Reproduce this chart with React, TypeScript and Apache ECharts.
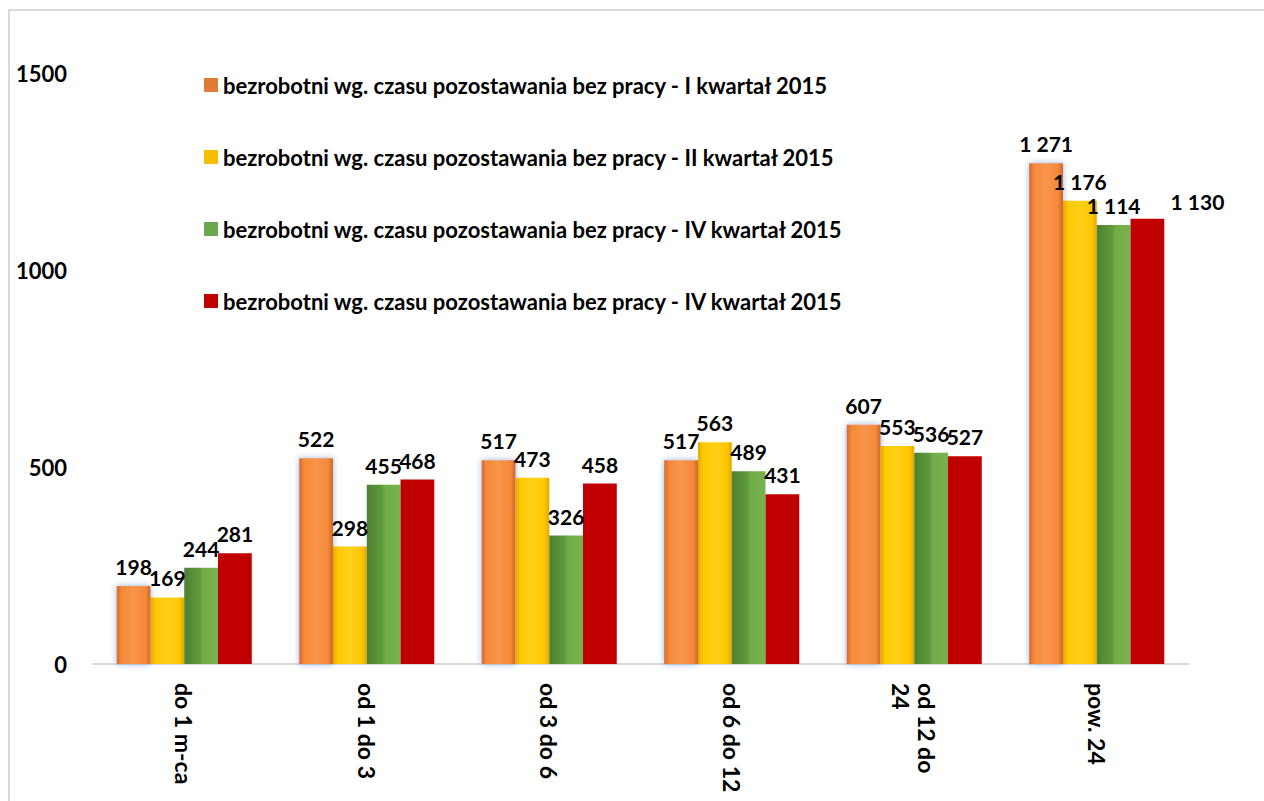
import React, { useEffect, useRef } from "react";
import * as echarts from "echarts";

const categories = ["do 1 m-ca", "od 1 do 3", "od 3 do 6", "od 6 do 12", "od 12 do\n24", "pow. 24"];
const seriesNames = [
  "bezrobotni wg. czasu pozostawania bez pracy - I kwartał 2015",
  "bezrobotni wg. czasu pozostawania bez pracy - II kwartał 2015",
  "bezrobotni wg. czasu pozostawania bez pracy - IV kwartał 2015\u200B",
  "bezrobotni wg. czasu pozostawania bez pracy - IV kwartał 2015",
];
const q1 = [198, 522, 517, 517, 607, 1271];
const q2 = [169, 298, 473, 563, 553, 1176];
const q3 = [244, 455, 326, 489, 536, 1114];
const q4 = [281, 468, 458, 431, 527, 1130];
const yTicks = { min: 0, max: 1500, interval: 500 };

const FONT = "Lato";

function grad(stops: [number, string][]) {
  return new echarts.graphic.LinearGradient(0, 0, 1, 0, stops.map(([offset, color]) => ({ offset, color })));
}

export default function App() {
  const ref = useRef<HTMLDivElement>(null);
  useEffect(() => {
    if (!ref.current) return;
    const chart = echarts.init(ref.current, undefined, { renderer: "svg" });
    const fmt = (v: number) => String(v).replace(/\B(?=(\d{3})+(?!\d))/g, " ");
    const label = {
      show: true,
      position: "top" as const,
      distance: 9,
      fontFamily: FONT,
      fontWeight: "bold" as const,
      fontSize: 21,
      color: "#000",
      formatter: (p: any) => fmt(p.value),
    };
    const colors = [
      grad([[0, "#D9692A"], [0.15, "#F58A3A"], [0.5, "#F8954A"], [0.85, "#F58A3A"], [1, "#C9682A"]]),
      grad([[0, "#E6A800"], [0.15, "#FFC800"], [0.5, "#FFD01A"], [0.85, "#FFC800"], [1, "#E0A800"]]),
      grad([[0, "#4E8030"], [0.45, "#5E9A3C"], [0.55, "#70AD47"], [1, "#78B24E"]]),
      "#C00000",
    ];
    const legendColors = ["#E07B35", "#F5BE00", "#6AA84F", "#C00000"];
    const data = [q1, q2, q3, q4];
    chart.setOption({
      animation: false,
      backgroundColor: "#fff",
      textStyle: { fontFamily: FONT },
      graphic: [
        {
          type: "rect",
          shape: { x: 9, y: 10, width: 1270, height: 800 },
          style: { fill: "none", stroke: "#d9d9d9", lineWidth: 2 },
          silent: true,
        },
      ],
      legend: {
        orient: "vertical",
        left: 199,
        top: 69,
        itemWidth: 14,
        itemHeight: 14,
        itemGap: 50,
        icon: "rect",
        textStyle: { fontFamily: FONT, fontWeight: "bold", fontSize: 22, lineHeight: 22, color: "#000" },
        formatter: (n: string) => n.replace(/\u200B/g, ""),
        data: seriesNames.map((n, i) => ({ name: n, itemStyle: { color: legendColors[i] } })),
      },
      grid: { left: 93, right: 76, top: 73, bottom: 137, containLabel: false },
      xAxis: {
        type: "category",
        data: categories,
        axisLine: { lineStyle: { color: "#d9d9d9", width: 2 } },
        axisTick: { show: false },
        axisLabel: {
          rotate: -90,
          margin: 19,
          interval: 0,
          fontFamily: FONT,
          fontWeight: "bold",
          fontSize: 23,
          color: "#000",
          lineHeight: 26,
        },
      },
      yAxis: {
        type: "value",
        min: yTicks.min,
        max: yTicks.max,
        interval: yTicks.interval,
        splitLine: { show: false },
        axisLine: { show: false },
        axisTick: { show: false },
        axisLabel: {
          fontFamily: FONT,
          fontWeight: "bold",
          fontSize: 22,
          color: "#000",
          margin: 26,
          formatter: (v: number) => String(v),
        },
      },
      series: data.map((d, i) => ({
        type: "bar",
        name: seriesNames[i],
        data: d.map((v, j) =>
          i === 3 && j === d.length - 1 ? { value: v, label: { offset: [50, 2] } } : v
        ),
        barGap: "0%",
        barCategoryGap: "26%",
        itemStyle: {
          color: colors[i],
          ...(i === 0 ? { shadowColor: "rgba(100,150,210,0.7)", shadowBlur: 6 } : {}),
        },
        label,
      })),
    });
    return () => chart.dispose();
  }, []);
  return <div ref={ref} style={{ position: "fixed", left: 0, top: 0, width: 1264, height: 801 }} />;
}
